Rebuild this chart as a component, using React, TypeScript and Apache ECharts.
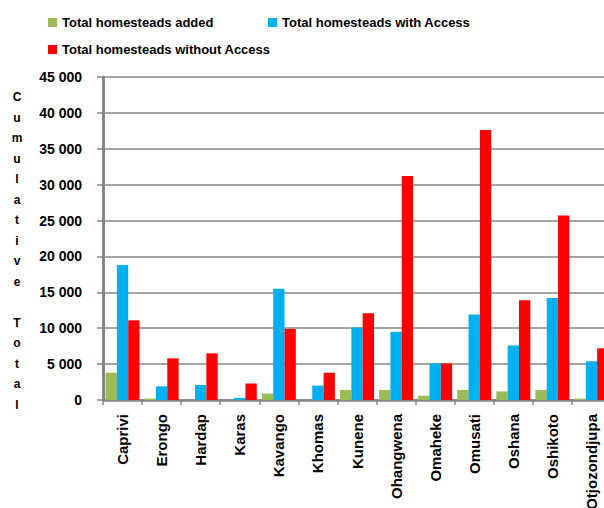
import React, { useEffect, useRef } from "react";
import * as echarts from "echarts";

const categories = [
  "Caprivi", "Erongo", "Hardap", "Karas", "Kavango", "Khomas", "Kunene",
  "Ohangwena", "Omaheke", "Omusati", "Oshana", "Oshikoto", "Otjozondjupa",
];
const seriesNames = [
  "Total homesteads added",
  "Total homesteads with Access",
  "Total homesteads without Access",
];
const added = [3800, 200, 0, 0, 900, 0, 1400, 1400, 600, 1400, 1200, 1400, 200];
const withAccess = [18800, 1900, 2100, 300, 15500, 2000, 10100, 9500, 5100, 11900, 7600, 14200, 5400];
const withoutAccess = [11100, 5800, 6500, 2300, 9900, 3800, 12100, 31200, 5100, 37600, 13900, 25700, 7200];
const yTitle = "Cumulative Total";

const colors = ["#9BBB59", "#00B0F0", "#FF0000"];
const gray = "#868686";
const FONT = "Liberation Sans, Arial, sans-serif";

export default function App() {
  const ref = useRef<HTMLDivElement>(null);
  useEffect(() => {
    if (!ref.current) return;
    const chart = echarts.init(ref.current, null, { renderer: "svg" });
    const legendText = { fontFamily: FONT, fontWeight: "bold" as const, fontSize: 13, color: "#000" };
    const legendBase = {
      orient: "horizontal" as const,
      itemWidth: 9,
      itemHeight: 9,
      padding: 0,
      icon: "rect",
      textStyle: legendText,
      selectedMode: false,
    };
    chart.setOption({
      animation: false,
      color: colors,
      legend: [
        { ...legendBase, data: [seriesNames[0]], left: 48, top: 16 },
        { ...legendBase, data: [seriesNames[1]], left: 268, top: 16 },
        { ...legendBase, data: [seriesNames[2]], left: 48, top: 43 },
      ],
      grid: {
        left: 103,
        right: -7,
        top: 77,
        bottom: 108,
        containLabel: false,
        outerBoundsMode: "none",
      },
      xAxis: {
        type: "category",
        data: categories,
        axisLine: { show: true, lineStyle: { color: gray, width: 2.5 } },
        axisTick: { show: true, length: 5, lineStyle: { color: gray, width: 1.5 } },
        axisLabel: {
          interval: 0,
          rotate: 90,
          margin: 14,
          fontFamily: FONT,
          fontWeight: "bold",
          fontSize: 15,
          color: "#000",
        },
      },
      yAxis: {
        type: "value",
        min: 0,
        max: 45000,
        interval: 5000,
        axisLine: { show: true, lineStyle: { color: gray, width: 3 } },
        axisTick: { show: true, length: 6, lineStyle: { color: gray, width: 1.5 } },
        splitLine: { show: true, lineStyle: { color: gray, width: 1.6 } },
        axisLabel: {
          margin: 21,
          fontFamily: FONT,
          fontWeight: "bold",
          fontSize: 14,
          color: "#000",
          formatter: (v: number) => String(v).replace(/\B(?=(\d{3})+(?!\d))/g, " "),
        },
      },
      graphic: [
        {
          type: "text",
          x: 17,
          y: 87,
          style: {
            text: yTitle.split("").join("\n"),
            align: "center",
            verticalAlign: "top",
            lineHeight: 20.5,
            fontFamily: FONT,
            fontWeight: "bold",
            fontSize: 12,
            fill: "#000",
          },
        },
      ],
      series: [
        { name: seriesNames[0], type: "bar", data: added, barGap: "0%", barCategoryGap: "13%" },
        { name: seriesNames[1], type: "bar", data: withAccess, barGap: "0%", barCategoryGap: "13%" },
        { name: seriesNames[2], type: "bar", data: withoutAccess, barGap: "0%", barCategoryGap: "13%" },
      ],
    });
    return () => chart.dispose();
  }, []);
  return (
    <div
      ref={ref}
      style={{ position: "fixed", left: 0, top: 0, width: 604, height: 508, background: "#fff" }}
    />
  );
}
